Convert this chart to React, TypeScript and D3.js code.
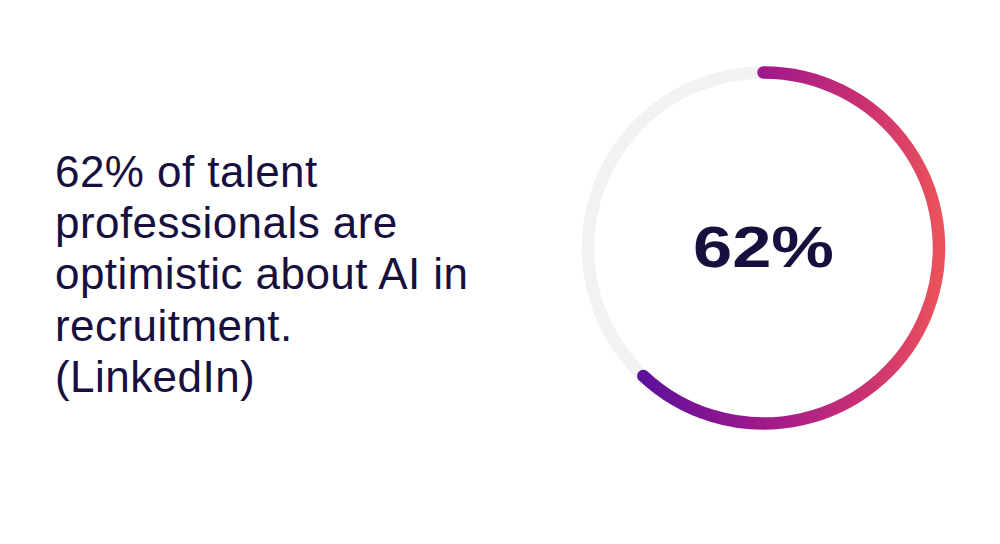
/** Single-stat donut: share of talent professionals optimistic about AI. */

import { useEffect } from 'react'
import { path, scaleLinear } from 'd3'

const value = 62
const valueLabel = '62%'
const statLines = ['62% of talent', 'professionals are', 'optimistic about AI in', 'recruitment.', '(LinkedIn)']
const gradientStops = [
  { offset: 0, color: '#4f0da3' },
  { offset: 0.16, color: '#5c109c' },
  { offset: 0.5, color: '#a0198b' },
  { offset: 0.79, color: '#cd3270' },
  { offset: 1, color: '#ec545a' },
]

const W = 1000
const H = 544
const cx = 763.5
const cy = 248
const r = 175.5
const ring = 12.5
const ink = '#17103f'

export default function App() {
  useEffect(() => {
    document.body.style.margin = '0'
  }, [])

  // value -> angle, measured clockwise from 12 o'clock
  const angle = scaleLinear().domain([0, 100]).range([0, Math.PI * 2])

  const track = path()
  track.arc(cx, cy, r, 0, Math.PI * 2)

  const valueArc = path()
  const a0 = -Math.PI / 2
  const a1 = a0 + angle(value)
  valueArc.moveTo(cx + r * Math.cos(a0), cy + r * Math.sin(a0))
  valueArc.arc(cx, cy, r, a0, a1)

  return (
    <svg width={W} height={H} style={{ display: 'block' }}>
      <defs>
        <linearGradient id="ringGrad" gradientUnits="userSpaceOnUse" x1={cx - r - ring / 2} y1={0} x2={cx + r + ring / 2} y2={0}>
          {gradientStops.map((s) => (
            <stop key={s.offset} offset={s.offset} stopColor={s.color} />
          ))}
        </linearGradient>
      </defs>
      <rect width={W} height={H} fill="#ffffff" />

      <g fontFamily="'Liberation Sans', Arial, sans-serif" fill={ink} letterSpacing={0.45}>
        {statLines.map((line, i) => (
          <text key={i} x={55} y={187 + i * 51.2} fontSize={44}>
            {line}
          </text>
        ))}
      </g>

      <path d={track.toString()} fill="none" stroke="#f2f2f2" strokeWidth={ring} />
      <path
        d={valueArc.toString()}
        fill="none"
        stroke="url(#ringGrad)"
        strokeWidth={ring}
        strokeLinecap="round"
      />

      <text
        x={cx}
        y={267}
        textAnchor="middle"
        fontFamily="'Liberation Sans', Arial, sans-serif"
        fontWeight={700}
        fontSize={57}
        fill={ink}
        textLength={141}
        lengthAdjust="spacingAndGlyphs"
      >
        {valueLabel}
      </text>
    </svg>
  )
}
